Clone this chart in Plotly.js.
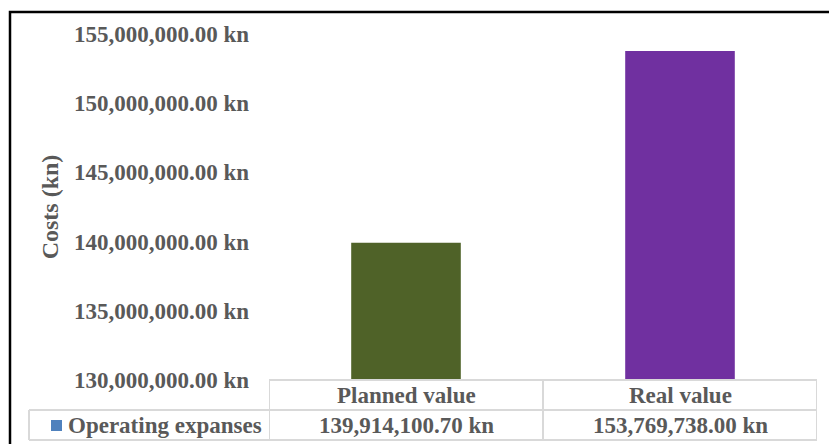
<!DOCTYPE html>
<html>
<head>
<meta charset="utf-8">
<script src="https://cdn.plot.ly/plotly-3.0.1.min.js"></script>
<style>
  html, body { margin: 0; padding: 0; background: #ffffff; }
  #chart { width: 829px; height: 444px; }
</style>
</head>
<body>
<div id="chart"></div>
<script>
// Operating expenses: planned vs. real
const categories = ['Planned value', 'Real value'];
const costs = [139914100.70, 153769738.00];
const seriesName = 'Operating expanses';
const barColors = ['#4F6228', '#7030A0'];
const seriesKeyColor = '#4F81BD';
const yTickValues = [130000000, 135000000, 140000000, 145000000, 150000000, 155000000];

const W = 829, H = 444;
const M = { l: 269, r: 12, t: 34, b: 64 };
const plotW = W - M.l - M.r;
const plotH = H - M.t - M.b;
// pixel -> paper helpers for the data table under the plot
const px = x => (x - M.l) / plotW;
const py = y => (H - M.b - y) / plotH;

const fontFam = '"Liberation Serif", "Times New Roman", serif';
const grey = '#595959';
const gridGrey = '#D9D9D9';

const fmt = v => v.toLocaleString('en-US', { minimumFractionDigits: 2, maximumFractionDigits: 2 }) + ' kn';

const trace = {
  type: 'bar',
  x: categories,
  y: costs.map(v => v - yTickValues[0]),
  base: yTickValues[0],
  name: seriesName,
  marker: { color: barColors },
  hoverinfo: 'skip'
};

// data table lines
const rowTop = H - M.b, rowMid = rowTop + 30, rowBot = rowTop + 60;
const tableLeft = 29;
const line = (x0, y0, x1, y1, xref) => ({
  type: 'line', xref: xref || 'paper', yref: 'paper',
  x0, y0: py(y0), x1, y1: py(y1),
  line: { color: gridGrey, width: 2 }
});
const shapes = [
  line(px(M.l), rowTop, px(W - M.r), rowTop),
  line(px(tableLeft), rowMid, px(W - M.r), rowMid),
  line(px(tableLeft), rowBot, px(W - M.r), rowBot),
  line(px(tableLeft), rowMid, px(tableLeft), rowBot),
  line(-0.5, rowTop, -0.5, rowBot, 'x'),
  line(0.5, rowTop, 0.5, rowBot, 'x'),
  line(1.5, rowTop, 1.5, rowBot, 'x'),
  // series key
  { type: 'rect', xref: 'paper', yref: 'paper',
    x0: px(51), x1: px(62), y0: py(420), y1: py(431),
    fillcolor: seriesKeyColor, line: { width: 0 } },
  // chart frame
  { type: 'rect', xref: 'paper', yref: 'paper',
    x0: px(10), x1: px(W + 20), y0: py(12), y1: py(H + 20),
    fillcolor: 'rgba(0,0,0,0)', line: { color: '#000000', width: 2.5 } }
];

const tableFont = { family: fontFam, size: 23, color: grey, weight: 'bold' };
const annotations = [];
categories.forEach((c, i) => {
  annotations.push({ xref: 'x', yref: 'paper', x: i, y: py((rowTop + rowMid) / 2),
    text: c, showarrow: false, font: tableFont, xanchor: 'center', yanchor: 'middle' });
  annotations.push({ xref: 'x', yref: 'paper', x: i, y: py((rowMid + rowBot) / 2),
    text: fmt(costs[i]), showarrow: false, font: tableFont, xanchor: 'center', yanchor: 'middle' });
});
annotations.push({ xref: 'paper', yref: 'paper', x: px(66), y: py((rowMid + rowBot) / 2),
  text: seriesName, showarrow: false, font: tableFont, xanchor: 'left', yanchor: 'middle' });

const layout = {
  width: W, height: H,
  margin: M,
  paper_bgcolor: '#ffffff',
  plot_bgcolor: '#ffffff',
  showlegend: false,
  bargap: 0.6,
  xaxis: {
    type: 'category', range: [-0.5, 1.5],
    showticklabels: false, showgrid: false, zeroline: false, showline: false, ticks: ''
  },
  yaxis: {
    range: [yTickValues[0], yTickValues[yTickValues.length - 1]],
    tickvals: yTickValues,
    ticktext: yTickValues.map(fmt),
    showgrid: false, zeroline: false, showline: false, ticks: '',
    ticklabelstandoff: 19,
    tickfont: { family: fontFam, size: 23, color: grey, weight: 'bold' },
    title: { text: 'Costs (kn)', standoff: 8,
      font: { family: fontFam, size: 24, color: grey, weight: 'bold' } },
    automargin: false
  },
  shapes, annotations
};

Plotly.newPlot('chart', [trace], layout, { displayModeBar: false, staticPlot: true });
</script>
</body>
</html>
